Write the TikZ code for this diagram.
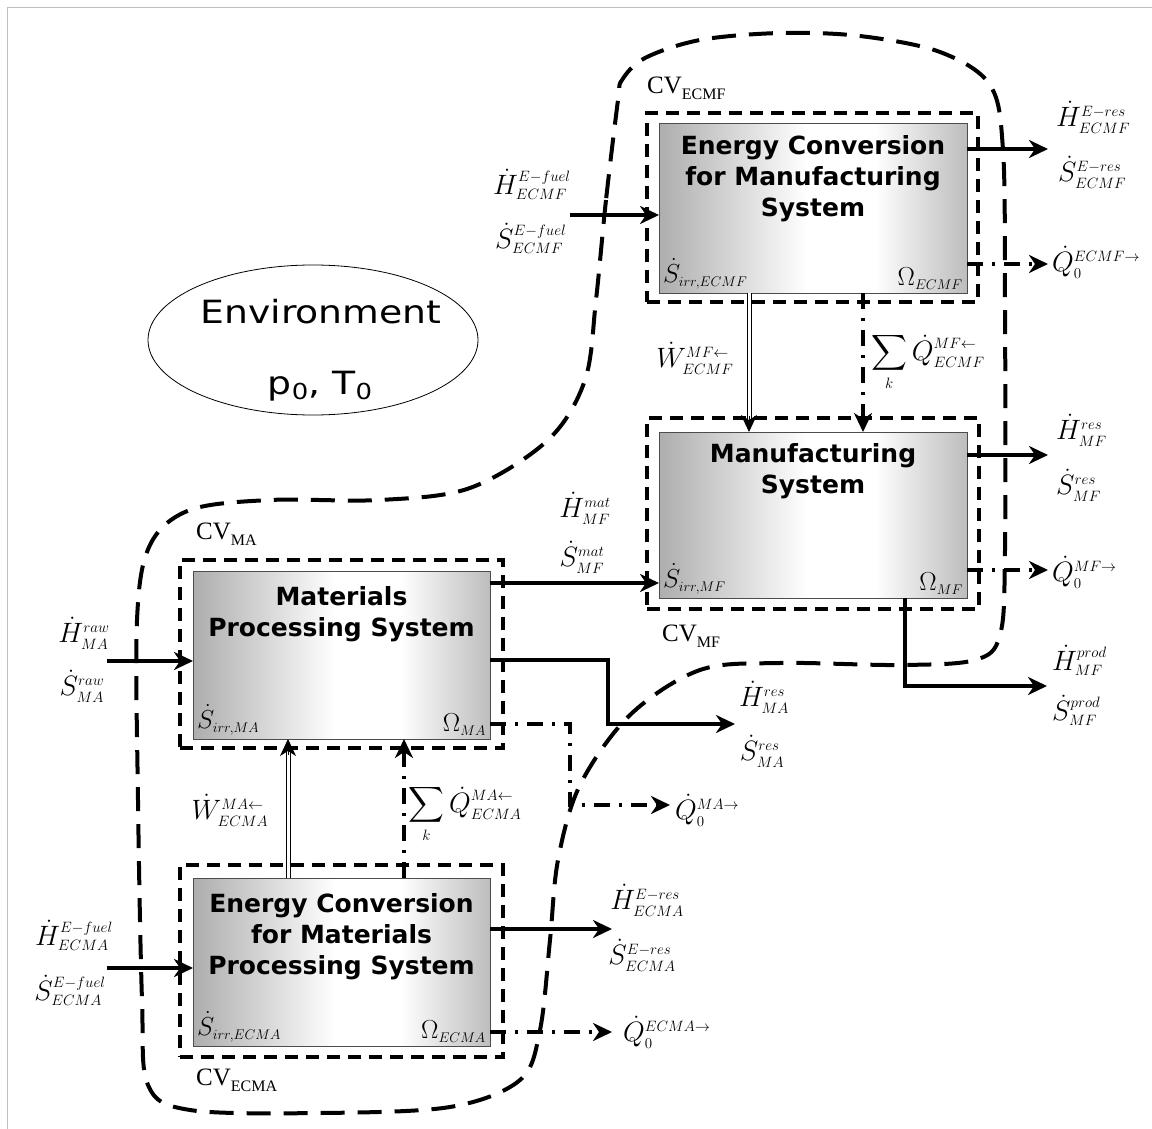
\documentclass[tikz,border=0pt]{standalone}
\usepackage{fix-cm}
\usepackage{amsmath}
\usepackage{fontspec}
\usetikzlibrary{arrows.meta,shapes.geometric,calc}
\newfontfamily\titlefont{DejaVu Sans}
\newfontfamily\envfont[FakeStretch=1.18]{DejaVu Sans}
\newfontfamily\cvfont{Liberation Serif}
\DeclareMathSizes{28}{28}{15}{11}
\DeclareMathSizes{26}{26}{14}{10}
\pgfdeclarehorizontalshading{boxshade}{100bp}{color(0bp)=(black!32); color(25bp)=(black!32); color(49bp)=(white); color(60bp)=(white); color(75bp)=(black!26); color(100bp)=(black!26)}
\newcommand\cvlabel[1]{{\fontsize{25}{28}\selectfont CV}\raisebox{-6pt}{\fontsize{16}{18}\selectfont #1}}
\tikzset{
  sysbox/.style={draw=black!70, line width=1pt, outer sep=0pt, inner sep=0pt, shading=boxshade},
  cvbox/.style={draw=black, line width=3.5pt, dash pattern=on 13pt off 8pt, outer sep=0pt, inner sep=0pt},
  title/.style={font=\titlefont\bfseries\fontsize{25}{31}\selectfont, align=center, inner sep=0pt, anchor=north},
  lbl/.style={font=\fontsize{28}{32}\selectfont, inner sep=0pt},
  corner/.style={font=\fontsize{26}{28}\selectfont, inner sep=0pt},
  cvl/.style={font=\cvfont, inner sep=0pt, anchor=west},
  tipA/.style={-{Stealth[length=19pt,width=18pt,inset=6pt]}},
  flow/.style={line width=4pt, tipA},
  heat/.style={line width=3.5pt, dash pattern=on 16pt off 9pt on 3pt off 9pt, tipA},
  work/.style={double=white, double distance=3pt, line width=1pt},
  wtip/.style={line width=1pt, -{Stealth[length=17pt,width=16pt,inset=5pt]}},
  bound/.style={line width=4pt, dash pattern=on 24pt off 13pt}
}
\begin{document}
\begin{tikzpicture}[x=1pt,y=-1pt]
\useasboundingbox (0,0) rectangle (1152,1129);
\draw[black!25, line width=1pt] (7,1129) -- (7,8) -- (1152,8);

% big control boundary
\draw[bound] plot[smooth cycle, tension=0.55] coordinates {
 (618,100) (606,200) (596,300) (585,380) (548,440) (470,488) (380,500) (270,500)
 (190,510) (150,545) (137,620) (138,800) (142,1000) (148,1085) (190,1110)
 (320,1113) (450,1107) (520,1080) (540,1030) (550,940) (558,860) (580,785)
 (630,715) (700,670) (780,663) (900,665) (975,660) (1000,635) (1005,550)
 (1005,300) (1003,150) (990,85) (940,52) (860,36) (780,33) (700,40) (645,58) (622,80)};

% environment
\node[draw, ellipse, line width=0.8pt, minimum width=330pt, minimum height=150pt] (env) at (313,340) {};
\node[font=\envfont\fontsize{32}{36}\selectfont, inner sep=0pt, anchor=base] (envT) at (321,323) {Environment};
\node[font=\envfont\fontsize{32}{36}\selectfont, inner sep=0pt, anchor=base] (envP) at (320,394)
  {p\raisebox{-5pt}{\fontsize{22}{24}\selectfont 0}, T\raisebox{-5pt}{\fontsize{22}{24}\selectfont 0}};

% control volume rectangles
\node[cvbox, minimum width=331pt, minimum height=189pt] (cvecmf) at (812.5,207.5) {};
\node[cvbox, minimum width=332pt, minimum height=191pt] (cvmf) at (813,513.5) {};
\node[cvbox, minimum width=323pt, minimum height=188pt] (cvma) at (341.5,654) {};
\node[cvbox, minimum width=323pt, minimum height=192pt] (cvecma) at (341.5,961) {};

% system boxes
\node[sysbox, minimum width=308pt, minimum height=169pt] (ecmf) at (813,208.5) {};
\node[sysbox, minimum width=308pt, minimum height=166pt] (mf) at (813,515) {};
\node[sysbox, minimum width=297pt, minimum height=168pt] (ma) at (341.5,655) {};
\node[sysbox, minimum width=297pt, minimum height=168pt] (ecma) at (341.5,962) {};

\node[title] (ecmfT) at ($(ecmf.north)+(0,11)$) {Energy Conversion\\for Manufacturing\\System};
\node[title] (mfT) at ($(mf.north)+(0,11)$) {Manufacturing\\System};
\node[title] (maT) at ($(ma.north)+(0,15)$) {Materials\\Processing System};
\node[title] (ecmaT) at ($(ecma.north)+(0,15)$) {Energy Conversion\\for Materials\\Processing System};

\node[corner, anchor=south west] (ecmfS) at ($(ecmf.south west)+(4,-4)$) {$\dot S_{irr,ECMF}$};
\node[corner, anchor=south east] (ecmfO) at ($(ecmf.south east)+(-4,-3)$) {$\Omega_{ECMF}$};
\node[corner, anchor=south west] (mfS) at ($(mf.south west)+(4,-4)$) {$\dot S_{irr,MF}$};
\node[corner, anchor=south east] (mfO) at ($(mf.south east)+(-4,-3)$) {$\Omega_{MF}$};
\node[corner, anchor=south west] (maS) at ($(ma.south west)+(4,-4)$) {$\dot S_{irr,MA}$};
\node[corner, anchor=south east] (maO) at ($(ma.south east)+(-4,-3)$) {$\Omega_{MA}$};
\node[corner, anchor=south west] (ecmaS) at ($(ecma.south west)+(4,-4)$) {$\dot S_{irr,ECMA}$};
\node[corner, anchor=south east] (ecmaO) at ($(ecma.south east)+(-4,-3)$) {$\Omega_{ECMA}$};

% CV labels
\node[cvl] (cvlecmf) at (647,88) {\cvlabel{ECMF}};
\node[cvl] (cvlmf) at (662,636) {\cvlabel{MF}};
\node[cvl] (cvlma) at (196,534) {\cvlabel{MA}};
\node[cvl] (cvlecma) at (196,1080) {\cvlabel{ECMA}};

% coordinates
\coordinate (inECMF) at (570,215);
\coordinate (outECMF) at (1048,149);
\coordinate (qECMF) at (1048,264);
\coordinate (wECMF) at (749,0);
\coordinate (hECMF) at (863,0);
\coordinate (outMF) at (1048,455);
\coordinate (qMF) at (1048,570);
\coordinate (prodX) at (905,0);
\coordinate (prodEnd) at (1047,686);
\coordinate (matY) at (0,583);
\coordinate (rawIn) at (107,661);
\coordinate (maRes1) at (608,660);
\coordinate (maResEnd) at (735,724);
\coordinate (maQ1) at (570,724);
\coordinate (maQEnd) at (670,805);
\coordinate (wECMA) at (288,0);
\coordinate (hECMA) at (404,0);
\coordinate (inECMA) at (107,968);
\coordinate (outECMA) at (612,929);
\coordinate (qECMA) at (612,1032);

% ECMF flows
\draw[flow] (inECMF) -- (inECMF -| ecmf.west);
\draw[flow] (outECMF -| ecmf.east) -- (outECMF);
\draw[heat] (qECMF -| ecmf.east) -- (qECMF);
\draw[work] (wECMF |- ecmf.south) -- ($(wECMF |- mf.north)+(0,-8)$);
\draw[wtip] ($(wECMF |- mf.north)+(0,-16)$) -- (wECMF |- mf.north);
\draw[heat] (hECMF |- ecmf.south) -- (hECMF |- mf.north);

% MF flows
\draw[flow] (outMF -| mf.east) -- (outMF);
\draw[heat] (qMF -| mf.east) -- (qMF);
\draw[flow] (prodX |- mf.south) |- (prodEnd);
\draw[flow] (matY -| ma.east) -- (matY -| mf.west);

% MA flows
\draw[flow] (rawIn) -- (rawIn -| ma.west);
\draw[flow] (maRes1 -| ma.east) -- (maRes1) |- (maResEnd);
\draw[heat] (maQ1 -| ma.east) -- (maQ1) |- (maQEnd);
\draw[work] (wECMA |- ecma.north) -- ($(wECMA |- ma.south)+(0,8)$);
\draw[wtip] ($(wECMA |- ma.south)+(0,16)$) -- (wECMA |- ma.south);
\draw[heat] (hECMA |- ecma.north) -- (hECMA |- ma.south);

% ECMA flows
\draw[flow] (inECMA) -- (inECMA -| ecma.west);
\draw[flow] (outECMA -| ecma.east) -- (outECMA);
\draw[heat] (qECMA -| ecma.east) -- (qECMA);

% flow labels
\node[lbl, anchor=west] (lHinECMF) at (493,184) {$\dot H^{E-fuel}_{ECMF}$};
\node[lbl, anchor=west] (lSinECMF) at (495,238) {$\dot S^{E-fuel}_{ECMF}$};
\node[lbl, anchor=west] (lHoutECMF) at (1056,117) {$\dot H^{E-res}_{ECMF}$};
\node[lbl, anchor=west] (lSoutECMF) at (1058,172) {$\dot S^{E-res}_{ECMF}$};
\node[lbl, anchor=west] (lQECMF) at (1052,262) {$\dot Q_0^{ECMF\rightarrow}$};
\node[lbl] (lWECMF) at (695,358) {$\dot W^{MF\leftarrow}_{ECMF}$};
\node[lbl] (lSumECMF) at (928,362) {$\displaystyle\sum_k \dot Q^{MF\leftarrow}_{ECMF}$};
\node[lbl, anchor=west] (lHresMF) at (1056,430) {$\dot H^{res}_{MF}$};
\node[lbl, anchor=west] (lSresMF) at (1056,485) {$\dot S^{res}_{MF}$};
\node[lbl, anchor=west] (lQMF) at (1052,572) {$\dot Q_0^{MF\rightarrow}$};
\node[lbl, anchor=west] (lHprod) at (1052,660) {$\dot H^{prod}_{MF}$};
\node[lbl, anchor=west] (lSprod) at (1052,710) {$\dot S^{prod}_{MF}$};
\node[lbl] (lHmat) at (585,508) {$\dot H^{mat}_{MF}$};
\node[lbl] (lSmat) at (582,557) {$\dot S^{mat}_{MF}$};
\node[lbl] (lHraw) at (84,633) {$\dot H^{raw}_{MA}$};
\node[lbl] (lSraw) at (82,686) {$\dot S^{raw}_{MA}$};
\node[lbl] (lHresMA) at (764,697) {$\dot H^{res}_{MA}$};
\node[lbl] (lSresMA) at (762,751) {$\dot S^{res}_{MA}$};
\node[lbl, anchor=west] (lQMA) at (675,810) {$\dot Q_0^{MA\rightarrow}$};
\node[lbl] (lWECMA) at (230,810) {$\dot W^{MA\leftarrow}_{ECMA}$};
\node[lbl] (lSumECMA) at (465,814) {$\displaystyle\sum_k \dot Q^{MA\leftarrow}_{ECMA}$};
\node[lbl] (lHinECMA) at (74,935) {$\dot H^{E-fuel}_{ECMA}$};
\node[lbl] (lSinECMA) at (70,990) {$\dot S^{E-fuel}_{ECMA}$};
\node[lbl] (lHoutECMA) at (647,900) {$\dot H^{E-res}_{ECMA}$};
\node[lbl] (lSoutECMA) at (642,955) {$\dot S^{E-res}_{ECMA}$};
\node[lbl, anchor=west] (lQECMA) at (623,1032) {$\dot Q_0^{ECMA\rightarrow}$};
\end{tikzpicture}
\end{document}
